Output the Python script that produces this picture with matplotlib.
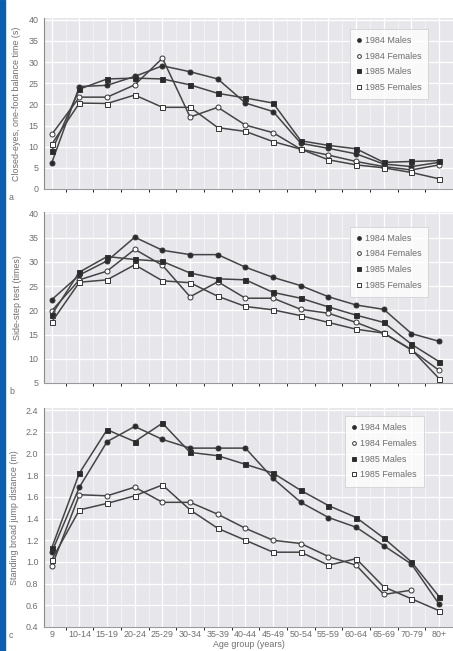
import numpy as np
import matplotlib
matplotlib.use("Agg")
import matplotlib.pyplot as plt
from matplotlib.patches import Rectangle

plt.rcParams['font.family'] = ['Liberation Sans', 'DejaVu Sans']

# age groups on the x axis
age_groups = ['9', '10-14', '15-19', '20-24', '25-29', '30-34', '35-39', '40-44',
              '45-49', '50-54', '55-59', '60-64', '65-69', '70-79', '80+']
series_names = ['1984 Males', '1984 Females', '1985 Males', '1985 Females']

# a: closed-eyes one-foot balance time (s)
bal_m84 = [6.2, 24.2, 24.5, 26.6, 29.1, 27.7, 26.0, 20.3, 18.3, 10.8, 9.6, 8.3, 5.9, 5.3, 6.3]
bal_f84 = [12.9, 21.7, 21.7, 24.6, 30.9, 17.0, 19.3, 15.1, 13.3, 9.4, 8.0, 6.5, 5.3, 4.5, 5.7]
bal_m85 = [9.0, 23.6, 26.0, 26.2, 26.0, 24.6, 22.6, 21.5, 20.3, 11.4, 10.3, 9.5, 6.3, 6.5, 6.7]
bal_f85 = [10.6, 20.3, 20.2, 22.2, 19.3, 19.3, 14.5, 13.6, 11.2, 9.4, 6.9, 5.7, 5.0, 3.9, 2.4]

# b: side-step test (times)
step_m84 = [22.2, 27.3, 30.2, 35.1, 32.4, 31.5, 31.5, 28.9, 26.8, 25.1, 22.8, 21.1, 20.2, 15.2, 13.6]
step_f84 = [19.9, 26.3, 28.1, 32.6, 29.3, 22.8, 25.9, 22.5, 22.5, 20.2, 19.4, 17.5, 15.3, 11.8, 7.6]
step_m85 = [19.1, 27.9, 31.1, 30.5, 30.1, 27.7, 26.5, 26.3, 23.7, 22.5, 20.7, 19.0, 17.5, 13.0, 9.4]
step_f85 = [17.6, 25.8, 26.3, 29.4, 26.1, 25.7, 22.9, 20.8, 20.1, 18.9, 17.5, 16.1, 15.3, 11.9, 5.9]

# c: standing broad jump distance (m)
jump_m84 = [1.09, 1.69, 2.11, 2.25, 2.13, 2.05, 2.05, 2.05, 1.77, 1.55, 1.41, 1.32, 1.15, 0.98, 0.61]
jump_f84 = [0.96, 1.62, 1.61, 1.69, 1.55, 1.55, 1.44, 1.31, 1.20, 1.17, 1.05, 0.97, 0.70, 0.74, np.nan]
jump_m85 = [1.13, 1.82, 2.22, 2.11, 2.28, 2.01, 1.98, 1.90, 1.82, 1.66, 1.52, 1.41, 1.22, 1.00, 0.68]
jump_f85 = [1.02, 1.48, 1.54, 1.61, 1.71, 1.48, 1.31, 1.20, 1.09, 1.09, 0.97, 1.03, 0.77, 0.66, 0.55]

panels = [
    ([bal_m84, bal_f84, bal_m85, bal_f85], 'Closed-eyes, one-foot balance time (s)',
     (0, 40.4), np.arange(0, 41, 5), '{:.0f}', 'a'),
    ([step_m84, step_f84, step_m85, step_f85], 'Side-step test (times)',
     (5, 40.3), np.arange(5, 41, 5), '{:.0f}', 'b'),
    ([jump_m84, jump_f84, jump_m85, jump_f85], 'Standing broad jump distance (m)',
     (0.4, 2.42), np.arange(0.4, 2.41, 0.2), '{:.1f}', 'c'),
]

# marker style per series: circle/square, filled/open
styles = [('o', '#2b2b2b'), ('o', 'white'), ('s', '#2b2b2b'), ('s', 'white')]

# axes boxes in pixel terms (top, bottom) and legend anchor (x, y in axes coords)
boxes = [(18, 189), (212, 383), (408, 627)]
leg_anchor = [(0.94, 0.936), (0.94, 0.915), (0.928, 0.962)]
W, H = 453, 651

fig = plt.figure(figsize=(W / 100, H / 100), dpi=100)
fig.patch.set_facecolor('white')
# blue strip on the left edge
fig.patches.append(Rectangle((0, 0), 5 / W, 1, transform=fig.transFigure,
                             color='#0b5fae', zorder=0))

x = np.arange(len(age_groups))
txt = '#6e6e6e'
fs = 6.4

for (data, ylab, ylim, yticks, fmt, tag), (top, bot), anc in zip(panels, boxes, leg_anchor):
    ax = fig.add_axes([44 / W, 1 - bot / H, 1 - 44 / W, (bot - top) / H])
    ax.set_facecolor('#e7e6eb')
    for vals, (mk, fc) in zip(data, styles):
        ax.plot(x, vals, color='#444444', lw=1.1, marker=mk, ms=3.6,
                mfc=fc, mec='#333333', mew=0.7, zorder=3)
    ax.set_xlim(-0.28, 14.21)
    ax.set_ylim(*ylim)
    ax.set_yticks(yticks)
    ax.set_yticklabels([fmt.format(t) for t in yticks])
    ax.set_xticks(x)
    ax.set_xticks(x + 0.5, minor=True)
    ax.grid(True, which='major', color='white', lw=0.9)
    ax.grid(True, which='minor', axis='x', color='white', lw=0.5, alpha=0.7)
    ax.set_axisbelow(True)
    ax.tick_params(length=0, labelsize=fs, labelcolor=txt, pad=4)
    for s in ['top', 'right']:
        ax.spines[s].set_visible(False)
    ax.spines['left'].set_color('#8a8a8a')
    ax.spines['bottom'].set_color('#9a98a8')
    ax.set_ylabel(ylab, fontsize=fs, color=txt, labelpad=5)
    if tag == 'c':
        ax.set_xticklabels(age_groups)
        ax.tick_params(axis='x', pad=2)
        ax.set_xlabel('Age group (years)', fontsize=fs, color=txt, labelpad=1)
    else:
        ax.set_xticklabels([])
    fig.text(9 / W, 1 - (bot + 9) / H, tag, fontsize=fs, color=txt, va='center')

    leg = ax.legend(series_names, loc='upper right', bbox_to_anchor=anc,
                    fontsize=fs, frameon=True, fancybox=False, handlelength=0.6,
                    handletextpad=0.3, markerscale=0.75, borderpad=0.8,
                    labelspacing=0.75, borderaxespad=0)
    leg.get_frame().set_facecolor('white')
    leg.get_frame().set_edgecolor('#cccccc')
    leg.get_frame().set_linewidth(0.6)
    for line in leg.get_lines():
        line.set_linestyle('none')
    for t in leg.get_texts():
        t.set_color(txt)

fig.savefig('out.png', dpi=100)
